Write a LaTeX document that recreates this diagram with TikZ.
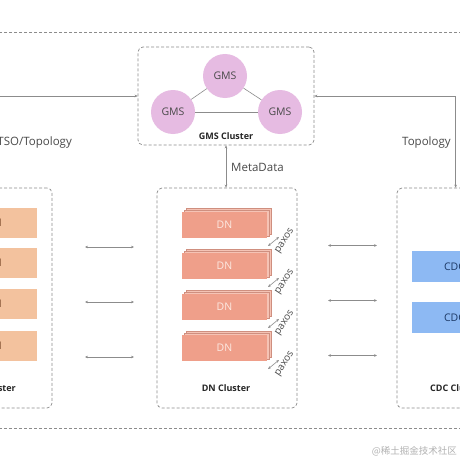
\documentclass[tikz,border=0pt]{standalone}
\usepackage{fontspec}
\setmainfont{Open Sans}
\newfontfamily\cjk{Noto Sans CJK SC}
\usetikzlibrary{arrows.meta}
\definecolor{lg}{HTML}{8C8C8C}
\definecolor{gmsfill}{HTML}{E6BBE2}
\definecolor{txt}{HTML}{4A4A4A}
\definecolor{cnfill}{HTML}{F3C29E}
\definecolor{cntext}{HTML}{7A4A2A}
\definecolor{dnfill}{HTML}{EF9F8A}
\definecolor{dnback}{HTML}{F5C3B5}
\definecolor{dnedge}{HTML}{CF8F7F}
\definecolor{dntext}{HTML}{FCE9E2}
\definecolor{cdcfill}{HTML}{8DB9F3}
\definecolor{cdctext}{HTML}{1E3A66}
\begin{document}
\begin{tikzpicture}[x=1pt,y=-1pt,
  cluster/.style={draw=lg, line width=0.7pt, dash pattern=on 3pt off 2pt, rounded corners=5pt},
  link/.style={draw=lg, line width=0.6pt},
  biarrow/.style={link, {Stealth[length=3pt,width=2.6pt]}-{Stealth[length=3pt,width=2.6pt]}},
  gmsnode/.style={circle, fill=gmsfill, minimum size=44pt, inner sep=0pt, text=txt, font=\fontsize{10.5}{12}\selectfont},
  cnbox/.style={fill=cnfill, minimum width=85pt, minimum height=30pt, inner sep=0pt, text=cntext, font=\fontsize{10.5}{12}\selectfont},
  dnlayer/.style={fill=dnback, draw=dnedge, line width=0.4pt, minimum width=85pt, minimum height=26pt, inner sep=0pt},
  dnfront/.style={fill=dnfill, minimum width=85pt, minimum height=26pt, inner sep=0pt, text=dntext, font=\fontsize{10.5}{12}\selectfont},
  cdcbox/.style={fill=cdcfill, minimum width=85pt, minimum height=31pt, inner sep=0pt, text=cdctext, font=\fontsize{10.5}{12}\selectfont},
  clabel/.style={font=\bfseries\fontsize{9}{11}\selectfont, text=black!85, inner sep=0pt},
  elabel/.style={font=\fontsize{11.5}{14}\selectfont, text=txt, inner sep=0pt},
  paxos/.style={font=\fontsize{10}{12}\selectfont, text=txt, rotate=57, inner sep=0pt}
]
\useasboundingbox (0,0) rectangle (460,460);
\clip (0,0) rectangle (460,460);
\fill[white] (0,0) rectangle (460,460);

% outer frame
\draw[cluster, rounded corners=0pt] (-10,32) rectangle (470,428);

% clusters
\node[cluster, minimum width=176pt, minimum height=98pt] (gmsc) at (226,96) {};
\node[cluster, minimum width=140pt, minimum height=220pt] (cnc) at (-18,298) {};
\node[cluster, minimum width=140pt, minimum height=220pt] (dnc) at (227,298) {};
\node[cluster, minimum width=140pt, minimum height=220pt] (cdcc) at (467,298) {};

% GMS
\node[gmsnode] (g1) at (225,76) {GMS};
\node[gmsnode] (g2) at (173,112) {GMS};
\node[gmsnode] (g3) at (280,112) {GMS};
\draw[link] (g1) -- (g2);
\draw[link] (g1) -- (g3);
\draw[link] (g2) -- (g3);
\node[clabel] (gmsl) at (226,136) {GMS Cluster};

% CN
\foreach \i/\y in {1/223,2/263,3/303.5,4/345.5}{
  \node[cnbox] (cn\i) at (-5.5,\y) {CN};
}
\node[clabel, anchor=east] (cnl) at (16,388) {CN Cluster};

% DN
\foreach \i/\y in {1/225,2/266,3/307,4/348}{
  \node[dnlayer] (dnbb\i) at (228.5,\y-4) {};
  \node[dnlayer] (dnb\i) at (226.5,\y-2) {};
  \node[dnfront] (dn\i) at (224.5,\y) {DN};
  \coordinate (pa\i) at (268,\y+21);
  \coordinate (pb\i) at (279,\y+12);
  \draw[biarrow] (pa\i) -- (pb\i);
  \node[paxos] (px\i) at (285,\y+16) {paxos};
}
\node[clabel] (dnl) at (226,388) {DN Cluster};

% CDC
\node[cdcbox] (cdc1) at (454.5,266.5) {CDC};
\node[cdcbox] (cdc2) at (454.5,317.5) {CDC};
\node[clabel, anchor=west] (cdcl) at (430,388) {CDC Cluster};

% connectors
\draw[biarrow] (gmsc.west) -| ([xshift=-56pt]cnc.north east);
\draw[biarrow] (gmsc.east) -| ([xshift=59pt]cdcc.north west);
\draw[biarrow] (gmsc.south) -- (gmsc.south |- dnc.north);
\node[elabel, anchor=east] (tso) at (72,143) {TSO/Topology};
\node[elabel, anchor=west] (topo) at (402,143) {Topology};
\node[elabel, anchor=west] (meta) at (231,167) {MetaData};

\foreach \i/\y in {1/247,2/302,3/357}{
  \coordinate (la\i) at (85,\y);
  \coordinate (lb\i) at (134,\y);
  \draw[biarrow] (la\i) -- (lb\i);
  \coordinate (ra\i) at (328,\y-1.5);
  \coordinate (rb\i) at (377,\y-1.5);
  \draw[biarrow] (ra\i) -- (rb\i);
}

% watermark
\node[anchor=east, text=black!30, inner sep=0pt, font=\cjk\fontsize{9.5}{11}\selectfont] (wm) at (457,451) {@稀土掘金技术社区};
\end{tikzpicture}
\end{document}
